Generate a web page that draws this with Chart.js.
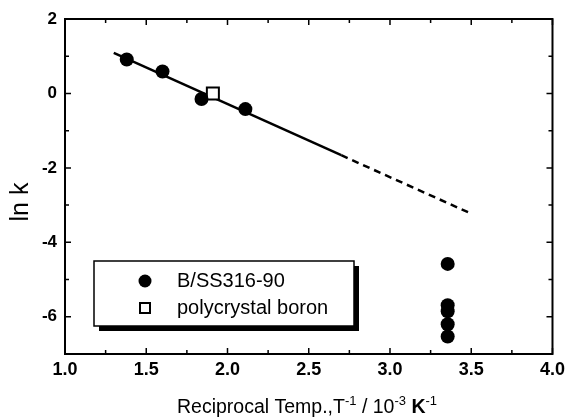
<!DOCTYPE html>
<html><head><meta charset="utf-8">
<script src="https://cdn.jsdelivr.net/npm/chart.js@4/dist/chart.umd.min.js"></script>
<style>html,body{margin:0;padding:0;background:#fff}#wrap{width:570px;height:418px}</style>
</head><body><div id="wrap"><canvas id="c" width="570" height="418"></canvas></div>
<script>
// ---- data ----
const bssX = [1.38, 1.60, 1.84, 2.11, 3.355, 3.355, 3.355, 3.355, 3.355];
const bssY = [0.91, 0.59, -0.15, -0.42, -4.58, -5.69, -5.85, -6.20, -6.53];
const polyX = [1.91];
const polyY = [0.00];
const fitX = [1.30, 2.70];
const fitY = [1.09, -1.66];
const extX = [2.70, 3.50];
const extY = [-1.66, -3.23];
const xTicks = [1.0, 1.5, 2.0, 2.5, 3.0, 3.5, 4.0];
const xMinorTicks = [1.25, 1.75, 2.25, 2.75, 3.25, 3.75];
const yTicks = [-6, -4, -2, 0, 2];
const yMinorTicks = [-5, -3, -1, 1];
const seriesNames = ['B/SS316-90', 'polycrystal boron'];
const yTitle = 'ln k';

const pts = (xs, ys) => xs.map((x, i) => ({x, y: ys[i]}));
const FONT = "'Liberation Sans', Arial, sans-serif";

const decor = {
  id: 'decor',
  afterDraw(chart) {
    const {ctx, chartArea: a, scales: {x, y}} = chart;
    ctx.save();
    // frame
    ctx.strokeStyle = '#000';
    ctx.lineWidth = 2;
    ctx.strokeRect(a.left, a.top, a.right - a.left, a.bottom - a.top);
    ctx.lineWidth = 1.5;
    ctx.beginPath();
    const tx = (vals, len) => vals.forEach(v => {
      const px = x.getPixelForValue(v);
      ctx.moveTo(px, a.bottom); ctx.lineTo(px, a.bottom - len);
      ctx.moveTo(px, a.top); ctx.lineTo(px, a.top + len);
    });
    const ty = (vals, len) => vals.forEach(v => {
      const py = y.getPixelForValue(v);
      ctx.moveTo(a.left, py); ctx.lineTo(a.left + len, py);
      ctx.moveTo(a.right, py); ctx.lineTo(a.right - len, py);
    });
    tx(xTicks, 6); tx(xMinorTicks, 4);
    ty(yTicks, 6); ty(yMinorTicks, 4);
    ctx.stroke();

    // legend
    const lx = 94, ly = 261, lw = 260, lh = 65;
    ctx.fillStyle = '#000';
    ctx.fillRect(lx + 5, ly + 5, lw, lh);
    ctx.fillStyle = '#fff';
    ctx.fillRect(lx, ly, lw, lh);
    ctx.lineWidth = 1.5;
    ctx.strokeRect(lx, ly, lw, lh);
    ctx.fillStyle = '#000';
    ctx.beginPath(); ctx.arc(145, 281, 6.5, 0, Math.PI * 2); ctx.fill();
    ctx.lineWidth = 2;
    ctx.strokeRect(140, 303, 10, 10);
    ctx.font = '20px ' + FONT;
    ctx.textBaseline = 'middle';
    ctx.textAlign = 'left';
    ctx.fillText(seriesNames[0], 177, 281);
    ctx.fillText(seriesNames[1], 177, 308);

    // y title
    ctx.save();
    ctx.translate(28, 202);
    ctx.rotate(-Math.PI / 2);
    ctx.textAlign = 'center';
    ctx.textBaseline = 'alphabetic';
    ctx.font = '25px ' + FONT;
    ctx.fillText(yTitle, 0, 0);
    ctx.restore();

    // x title with superscripts
    const segs = [
      ['Reciprocal Temp.,T', '19.5px', 0, 'normal'],
      ['-1', '13px', 8, 'normal'],
      [' / 10', '19.5px', 0, 'normal'],
      ['-3', '13px', 8, 'normal'],
      [' ', '19.5px', 0, 'normal'],
      ['K', '19.5px', 0, 'bold'],
      ['-1', '13px', 8, 'normal'],
    ];
    ctx.textBaseline = 'alphabetic';
    let total = 0;
    segs.forEach(s => { ctx.font = s[3] + ' ' + s[1] + ' ' + FONT; s.w = ctx.measureText(s[0]).width; total += s.w; });
    let cx = 307 - total / 2;
    segs.forEach(s => {
      ctx.font = s[3] + ' ' + s[1] + ' ' + FONT;
      ctx.fillText(s[0], cx, 413 - s[2]);
      cx += s.w;
    });
    ctx.restore();
  }
};

new Chart(document.getElementById('c'), {
  type: 'scatter',
  data: {
    datasets: [
      {label: seriesNames[0], data: pts(bssX, bssY), pointStyle: 'circle', pointRadius: 7,
       backgroundColor: '#000', borderColor: '#000', borderWidth: 0, showLine: false},
      {label: seriesNames[1], data: pts(polyX, polyY), pointStyle: 'rect', pointRadius: 8.5,
       backgroundColor: '#fff', borderColor: '#000', borderWidth: 2, showLine: false},
      {label: 'fit', data: pts(fitX, fitY), showLine: true, pointRadius: 0,
       borderColor: '#000', borderWidth: 2.5},
      {label: 'extrapolation', data: pts(extX, extY), showLine: true, pointRadius: 0,
       borderColor: '#000', borderWidth: 2.5, borderDash: [7, 5]}
    ]
  },
  options: {
    responsive: false,
    devicePixelRatio: 1,
    animation: false,
    layout: {padding: {left: 0, top: 19, right: 15, bottom: 0}},
    plugins: {legend: {display: false}, tooltip: {enabled: false}},
    scales: {
      x: {
        type: 'linear', min: 1, max: 4,
        afterBuildTicks: s => { s.ticks = xTicks.map(v => ({value: v})); },
        afterFit: s => { s.height = 64; },
        grid: {display: false, drawTicks: false},
        border: {display: false},
        ticks: {color: '#000', padding: 5, maxRotation: 0, autoSkip: false,
                font: {family: FONT, size: 18, weight: 'bold'},
                callback: v => Number(v).toFixed(1)}
      },
      y: {
        type: 'linear', min: -7, max: 2,
        afterBuildTicks: s => { s.ticks = yTicks.map(v => ({value: v})); },
        afterFit: s => { s.width = 65; },
        grid: {display: false, drawTicks: false},
        border: {display: false},
        ticks: {color: '#000', padding: 8, autoSkip: false,
                font: {family: FONT, size: 17, weight: 'bold'},
                callback: v => String(v)}
      }
    }
  },
  plugins: [decor]
});
</script>
</body></html>
